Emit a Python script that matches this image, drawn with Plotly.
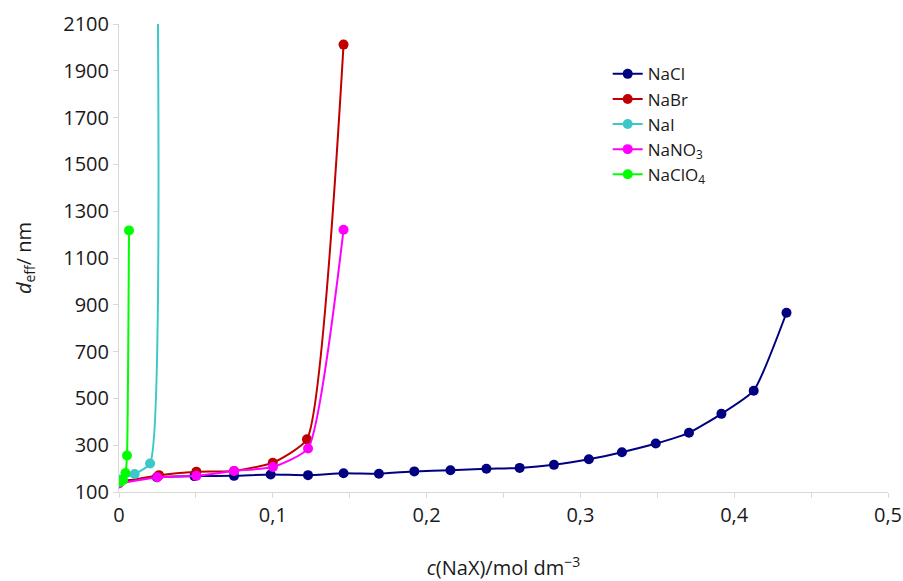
import plotly.graph_objects as go

# Data
nacl_x = [0.0, 0.0246, 0.049, 0.0748, 0.0986, 0.1229, 0.146, 0.169, 0.192, 0.2155, 0.2389, 0.2605, 0.2828, 0.3055, 0.327, 0.349, 0.3706, 0.3917, 0.4127, 0.434]
nacl_y = [145, 163, 168, 169, 175, 172, 180, 178, 188, 193, 199, 203, 216, 240, 270, 307, 353, 434, 533, 866]

nabr_x = [0.0, 0.026, 0.0503, 0.0748, 0.100, 0.1222, 0.146]
nabr_y = [140, 172, 187, 190, 225, 325, 2012]

nai_x = [0.0, 0.0102, 0.0202, 0.025]
nai_y = [153, 177, 222, 2400]

nano3_x = [0.0, 0.0250, 0.0503, 0.0748, 0.1001, 0.1229, 0.146]
nano3_y = [136, 163, 169, 190, 207, 286, 1221]

naclo4_x = [0.0005, 0.0026, 0.0042, 0.0052, 0.0065]
naclo4_y = [143, 150, 181, 256, 1218]

series = [
    ("NaCl", nacl_x, nacl_y, "#000080"),
    ("NaBr", nabr_x, nabr_y, "#C00000"),
    ("NaI", nai_x, nai_y, "#3CC8C8"),
    ("NaNO<sub>3</sub>", nano3_x, nano3_y, "#FF00FF"),
    ("NaClO<sub>4</sub>", naclo4_x, naclo4_y, "#00FF00"),
]

FONT = "Open Sans"
TXT = "#1a1a1a"
fig = go.Figure()
for i, (name, xs, ys, col) in enumerate(series):
    fig.add_trace(go.Scatter(
        x=xs, y=ys, name=name, mode="lines+markers",
        line=dict(color=col, width=2, shape="spline", smoothing=0.5),
        marker=dict(color=col, size=10, line=dict(width=0)),
        legendgroup="g%d" % i,
        cliponaxis=True,
    ))

axis_line = "#D9D9D9"
fig.update_layout(
    width=903, height=581,
    margin=dict(l=119, r=15, t=24, b=89, autoexpand=False),
    paper_bgcolor="white", plot_bgcolor="white",
    separators=",.",
    font=dict(family=FONT, size=20, color=TXT),
    showlegend=True,
    legend=dict(
        x=0.6355, y=0.931, xanchor="left", yanchor="top",
        font=dict(family=FONT, size=17, color=TXT),
        traceorder="grouped", tracegroupgap=0,
        bgcolor="rgba(0,0,0,0)",
    ),
    xaxis=dict(
        range=[0, 0.5], dtick=0.1, tick0=0, automargin=False,
        showgrid=False, zeroline=False,
        showline=True, linecolor=axis_line, linewidth=1,
        ticks="outside", ticklen=5, tickcolor=axis_line,
        minor=dict(dtick=0.05, ticks="outside", ticklen=5, tickcolor=axis_line),
        tickfont=dict(family=FONT, size=20, color=TXT),
        title=dict(text="<i>c</i>(NaX)/mol dm<sup>\u22123</sup>",
                   font=dict(family=FONT, size=20, color=TXT), standoff=34),
    ),
    yaxis=dict(
        range=[100, 2100], dtick=200, tick0=100, automargin=False,
        showgrid=False, zeroline=False,
        showline=True, linecolor=axis_line, linewidth=1,
        ticks="outside", ticklen=5, tickcolor=axis_line,
        tickfont=dict(family=FONT, size=20, color=TXT),
        title=dict(text="<i>d</i><sub>eff</sub>/ nm",
                   font=dict(family=FONT, size=20, color=TXT), standoff=26),
    ),
)

# remove the browser's default 8px body margin so the figure fills the window
fig.write_html(
    "out.html",
    config={"displayModeBar": False},
    post_script="document.body.style.margin='0';document.body.style.overflow='hidden';",
)
